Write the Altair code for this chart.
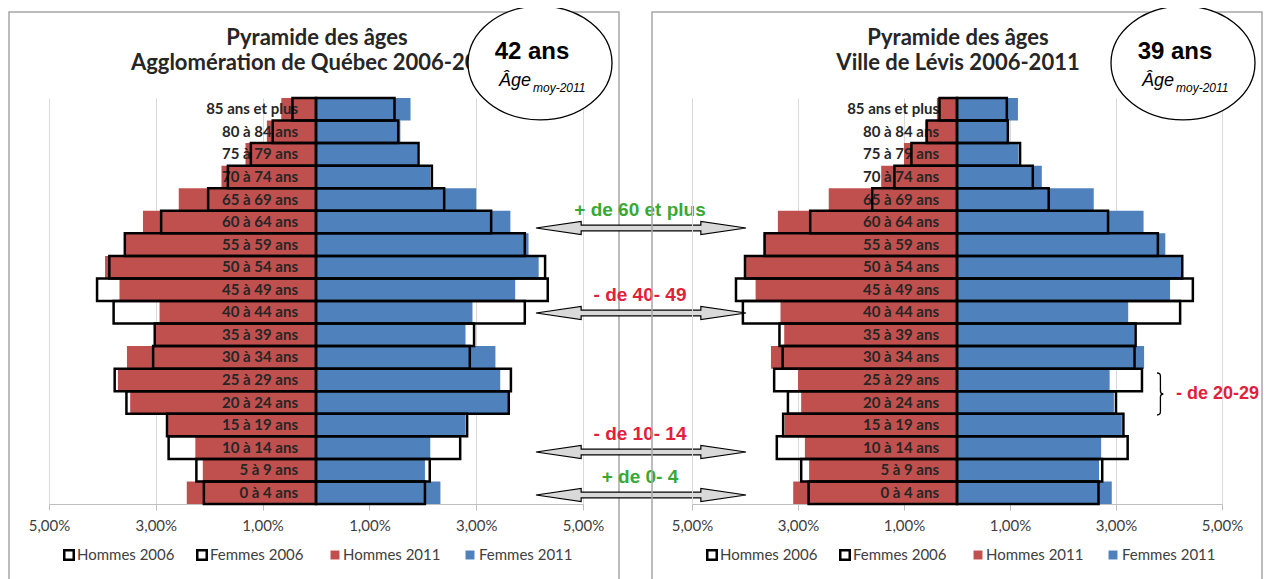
import altair as alt
import pandas as pd

categories = ["85 ans et plus", "80 à 84 ans", "75 à 79 ans", "70 à 74 ans", "65 à 69 ans",
              "60 à 64 ans", "55 à 59 ans", "50 à 54 ans", "45 à 49 ans", "40 à 44 ans",
              "35 à 39 ans", "30 à 34 ans", "25 à 29 ans", "20 à 24 ans", "15 à 19 ans",
              "10 à 14 ans", "5 à 9 ans", "0 à 4 ans"]

# Agglomération de Québec (% of population)
qc_hommes_2011 = [0.65, 0.92, 1.32, 1.77, 2.57, 3.24, 3.56, 3.95, 3.68, 2.93, 3.00, 3.54, 3.71, 3.48, 2.77, 2.26, 2.12, 2.42]
qc_hommes_2006 = [0.44, 0.81, 1.22, 1.65, 2.02, 2.90, 3.58, 3.87, 4.10, 3.79, 3.02, 3.05, 3.77, 3.55, 2.79, 2.76, 2.24, 2.10]
qc_femmes_2011 = [1.77, 1.58, 1.90, 2.14, 3.00, 3.64, 3.98, 4.17, 3.73, 2.93, 2.80, 3.36, 3.45, 3.60, 2.80, 2.14, 2.04, 2.33]
qc_femmes_2006 = [1.47, 1.54, 1.92, 2.17, 2.40, 3.28, 3.91, 4.29, 4.34, 3.91, 2.96, 2.88, 3.65, 3.61, 2.83, 2.70, 2.13, 2.04]

# Ville de Lévis (% of population)
lv_hommes_2011 = [0.38, 0.60, 1.00, 1.43, 2.42, 3.38, 3.65, 3.98, 3.80, 3.33, 3.26, 3.51, 3.00, 2.94, 3.25, 2.87, 2.79, 3.09]
lv_hommes_2006 = [0.33, 0.57, 0.86, 1.18, 1.60, 2.77, 3.63, 4.00, 4.17, 4.04, 3.35, 3.29, 3.45, 3.19, 3.28, 3.40, 2.94, 2.80]
lv_femmes_2011 = [1.15, 0.98, 1.16, 1.60, 2.58, 3.52, 3.93, 4.26, 4.02, 3.23, 3.35, 3.53, 2.88, 2.96, 3.11, 2.72, 2.68, 2.92]
lv_femmes_2006 = [0.94, 0.96, 1.19, 1.43, 1.73, 2.85, 3.79, 4.25, 4.45, 4.21, 3.37, 3.35, 3.49, 3.00, 3.14, 3.22, 2.74, 2.67]

xticks = [-5, -3, -1, 1, 3, 5]
legend_labels = ["Hommes 2006", "Femmes 2006", "Hommes 2011", "Femmes 2011"]
arrow_labels = ["+ de 60 et plus", "- de 40- 49", "- de 10- 14", "+ de 0- 4"]
bracket_label = "- de 20-29"

RED = "#C0504D"
BLUE = "#4F81BD"
GREEN_T = "#3aa835"
RED_T = "#e3203a"
FONT = "Lato"
H = 406

ARROW_PATH = ("M -1 0 L -0.57 -0.062 L -0.57 -0.027 L 0.57 -0.027 L 0.57 -0.062 L 1 0 "
              "L 0.57 0.062 L 0.57 0.027 L -0.57 0.027 L -0.57 0.062 Z")
ELLIPSE_PATH = "M -1 0 A 1 0.79 0 1 1 1 0 A 1 0.79 0 1 1 -1 0 Z"
BRACE_PATH = ("M -0.14 -1 Q 0.02 -1 0.02 -0.85 L 0.02 -0.14 Q 0.02 0 0.16 0 "
              "Q 0.02 0 0.02 0.14 L 0.02 0.85 Q 0.02 1 -0.14 1")

XAXIS = alt.Axis(values=xticks,
                 labelExpr="replace(format(abs(datum.value), '.2f'), '.', ',') + '%'",
                 grid=True, gridColor="#d9d9d9", gridWidth=1,
                 domainColor="#bfbfbf", tickColor="#bfbfbf", tickSize=6,
                 labelFont=FONT, labelFontSize=15, labelColor="#404040",
                 labelFlush=False, labelPadding=8, title=None)


def panel(W, h11, h06, f11, f06, title2, age_text, with_arrows, with_brace):
    rows = []
    for i, c in enumerate(categories):
        rows.append({"cat": c, "sexe": "Hommes", "annee": "2011", "v": -h11[i]})
        rows.append({"cat": c, "sexe": "Femmes", "annee": "2011", "v": f11[i]})
        rows.append({"cat": c, "sexe": "Hommes", "annee": "2006", "v": -h06[i]})
        rows.append({"cat": c, "sexe": "Femmes", "annee": "2006", "v": f06[i]})
    df = pd.DataFrame(rows)
    df["z"] = 0.0
    lab_df = pd.DataFrame({"cat": categories, "z": 0.0})
    one = pd.DataFrame({"z": [0.0]})

    xsc = alt.Scale(domain=[-5, 5], nice=False, zero=False)
    ysc = alt.Scale(domain=categories, paddingInner=0, paddingOuter=0)
    y = alt.Y("cat:N", scale=ysc, axis=None)

    def X(field):
        return alt.X(field, scale=xsc, axis=XAXIS)

    base = alt.Chart(df)
    b11 = base.transform_filter("datum.annee == '2011'").mark_bar().encode(
        x=X("v:Q"), x2="z:Q", y=y,
        color=alt.Color("sexe:N", scale=alt.Scale(domain=["Hommes", "Femmes"], range=[RED, BLUE]),
                        legend=None))
    center = alt.Chart(one).mark_rule(color="#7f7f7f", strokeWidth=1).encode(x=X("z:Q"))
    labels = alt.Chart(lab_df).mark_text(
        align="right", baseline="middle", dx=-18, font=FONT, fontWeight="bold",
        fontSize=15, color="#262626").encode(x=X("z:Q"), y=y, text="cat:N")
    b06 = base.transform_filter("datum.annee == '2006'").mark_bar(
        fill="transparent", stroke="black", strokeWidth=2.5).encode(
        x=X("v:Q"), x2="z:Q", y=y)

    ann = alt.Chart(one)
    layers = [b11, center, labels, b06]
    # frame
    layers.append(ann.mark_rect(fill="transparent", stroke="#a6a6a6", strokeWidth=1.5).encode(
        x=alt.value(-40), x2=alt.value(570), y=alt.value(-86), y2=alt.value(510)))
    # titles
    layers.append(ann.mark_text(text="Pyramide des âges", font=FONT, fontWeight="bold", fontSize=22,
                                color="#262626", align="center", baseline="middle").encode(
        x=alt.value(W / 2 + 1), y=alt.value(-60)))
    layers.append(ann.mark_text(text=title2, font=FONT, fontWeight="bold", fontSize=22,
                                color="#262626", align="center", baseline="middle").encode(
        x=alt.value(W / 2 + 1), y=alt.value(-35)))
    # legend
    sym_x = [20, 153, 286, 421]
    txt_x = [28, 161, 294, 430]
    for i, lab in enumerate(legend_labels):
        if i < 2:
            layers.append(ann.mark_point(shape="square", size=90, filled=True, fill="white",
                                         stroke="black", strokeWidth=2.5, opacity=1).encode(
                x=alt.value(sym_x[i]), y=alt.value(457)))
        else:
            layers.append(ann.mark_point(shape="square", size=80, filled=True,
                                         color=RED if i == 2 else BLUE, opacity=1).encode(
                x=alt.value(sym_x[i]), y=alt.value(457)))
        layers.append(ann.mark_text(text=lab, font=FONT, fontSize=15, color="#404040",
                                    align="left", baseline="middle").encode(
            x=alt.value(txt_x[i]), y=alt.value(457)))
    # age ellipse
    layers.append(ann.mark_point(shape=ELLIPSE_PATH, size=144 * 144, filled=True, fill="white",
                                 stroke="black", strokeWidth=1.3, opacity=1).encode(
        x=alt.value(491), y=alt.value(-35)))
    layers.append(ann.mark_text(text=age_text, font="Liberation Sans", fontWeight="bold", fontSize=24,
                                color="black", align="center", baseline="alphabetic").encode(
        x=alt.value(483), y=alt.value(-39)))
    layers.append(ann.mark_text(text="Âge", font="Liberation Sans", fontStyle="italic", fontSize=18,
                                color="black", align="left", baseline="alphabetic").encode(
        x=alt.value(450), y=alt.value(-12)))
    layers.append(ann.mark_text(text="moy-2011", font="Liberation Sans", fontStyle="italic", fontSize=12,
                                color="black", align="left", baseline="alphabetic").encode(
        x=alt.value(484), y=alt.value(-6)))
    if with_arrows:
        arrow_y = [130, 215, 354, 397]
        for i, lab in enumerate(arrow_labels):
            layers.append(ann.mark_point(shape=ARROW_PATH, size=210 * 210, filled=True,
                                         fill="#d9d9d9", stroke="black", strokeWidth=1.2,
                                         opacity=1).encode(
                x=alt.value(592), y=alt.value(arrow_y[i])))
            layers.append(ann.mark_text(text=lab, font="Liberation Sans", fontWeight="bold",
                                        fontSize=19, color=GREEN_T if lab.startswith("+") else RED_T,
                                        align="center", baseline="middle").encode(
                x=alt.value(591), y=alt.value(arrow_y[i] - 18)))
    if with_brace:
        layers.append(ann.mark_point(shape=BRACE_PATH, size=42 * 42, filled=False, color="black",
                                     strokeWidth=1.3, opacity=1).encode(
            x=alt.value(468), y=alt.value(296)))
        layers.append(ann.mark_text(text=bracket_label, font="Liberation Sans", fontWeight="bold",
                                    fontSize=18, color=RED_T, align="left", baseline="middle").encode(
            x=alt.value(484), y=alt.value(296)))
    return alt.layer(*layers).properties(width=W, height=H)


left = panel(534, qc_hommes_2011, qc_hommes_2006, qc_femmes_2011, qc_femmes_2006,
             "Agglomération de Québec 2006-2011", "42 ans", True, False)
right = panel(530, lv_hommes_2011, lv_hommes_2006, lv_femmes_2011, lv_femmes_2006,
              "Ville de Lévis 2006-2011", "39 ans", False, True)

chart = alt.hconcat(left, right, spacing=109, bounds="flush").properties(
    padding={"left": 0, "top": -5, "right": 0, "bottom": 0},
    background="white",
).configure_view(strokeWidth=0)

chart.save("out.html", embed_options={"renderer": "svg", "actions": False})
